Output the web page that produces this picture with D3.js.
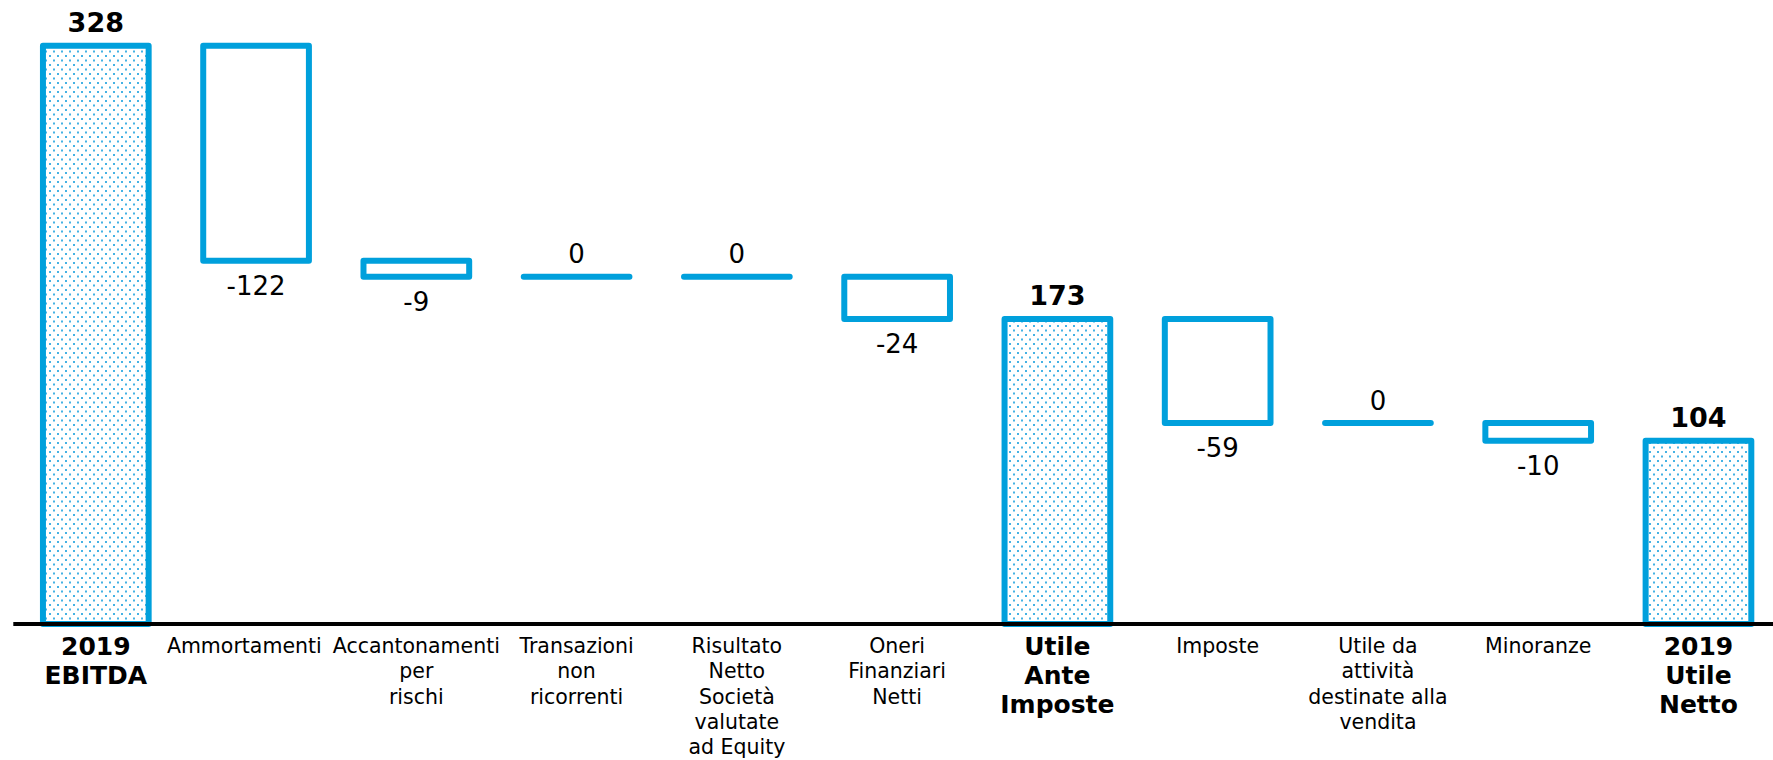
<!DOCTYPE html>
<html>
<head>
<meta charset="utf-8">
<script src="https://cdn.jsdelivr.net/npm/d3@7"></script>
<style>
  html, body { margin: 0; padding: 0; background: #fff; }
  svg { display: block; }
  text { font-family: "DejaVu Sans", Verdana, sans-serif; fill: #000; }
</style>
</head>
<body>
<svg id="chart" width="1773" height="760"></svg>
<script>
// ---- data ----
const categories = [
  "2019\nEBITDA",
  "Ammortamenti",
  "Accantonamenti\nper\nrischi",
  "Transazioni\nnon\nricorrenti",
  "Risultato\nNetto\nSocietà\nvalutate\nad Equity",
  "Oneri\nFinanziari\nNetti",
  "Utile\nAnte\nImposte",
  "Imposte",
  "Utile da\nattività\ndestinate alla\nvendita",
  "Minoranze",
  "2019\nUtile\nNetto"
];
const values = [328, -122, -9, 0, 0, -24, 173, -59, 0, -10, 104];
const kinds  = ["total", "delta", "delta", "delta", "delta", "delta", "total", "delta", "delta", "delta", "total"];
const valueLabels = ["328", "-122", "-9", "0", "0", "-24", "173", "-59", "0", "-10", "104"];

// ---- layout ----
const W = 1773, H = 760;
const baseY = 624, topY = 45.7;
const blue = "#00A0DC";

const svg = d3.select("#chart");

// waterfall steps
let running = 0;
const bars = categories.map((c, i) => {
  let y0, y1;
  if (kinds[i] === "total") { y0 = 0; y1 = values[i]; running = values[i]; }
  else { y0 = running; y1 = running + values[i]; running = y1; }
  return { cat: c, i, v: values[i], kind: kinds[i], lo: Math.min(y0, y1), hi: Math.max(y0, y1), label: valueLabels[i] };
});

const pin = 0.3405;
const x = d3.scaleBand()
  .domain(categories)
  .range([15.67, 1778.6])
  .paddingInner(pin)
  .paddingOuter(pin / 2);

const y = d3.scaleLinear().domain([0, 328]).range([baseY, topY]);

// pattern
const defs = svg.append("defs");
const pat = defs.append("pattern")
  .attr("id", "dots")
  .attr("patternUnits", "userSpaceOnUse")
  .attr("width", 8).attr("height", 9);
pat.append("rect").attr("width", 8).attr("height", 9).attr("fill", "#fff");
pat.append("rect").attr("x", 1).attr("y", 1).attr("width", 2).attr("height", 2).attr("fill", "#45B2E4");
pat.append("rect").attr("x", 5).attr("y", 5.5).attr("width", 2).attr("height", 2).attr("fill", "#45B2E4");

// bars
svg.append("g").selectAll("path")
  .data(bars)
  .join("path")
  .attr("d", d => {
    const p = d3.path();
    const x0 = x(d.cat), w = x.bandwidth();
    const yt = y(d.hi), yb = y(d.lo);
    p.moveTo(x0, yt);
    p.lineTo(x0 + w, yt);
    p.lineTo(x0 + w, yb);
    p.lineTo(x0, yb);
    p.closePath();
    return p.toString();
  })
  .attr("fill", d => d.kind === "total" ? "url(#dots)" : "#fff")
  .attr("stroke", blue)
  .attr("stroke-width", 6)
  .attr("stroke-linejoin", "round")
  .attr("stroke-linecap", "round");

// baseline
svg.append("line")
  .attr("x1", 13.3).attr("x2", W)
  .attr("y1", y(0)).attr("y2", y(0))
  .attr("stroke", "#000").attr("stroke-width", 4);

// value labels
svg.append("g").selectAll("text")
  .data(bars)
  .join("text")
  .attr("text-anchor", "middle")
  .attr("x", d => x(d.cat) + x.bandwidth() / 2)
  .attr("y", d => {
    if (d.kind === "total") return y(d.hi) - 13.5;
    if (d.v === 0) return y(d.hi) - 13.5;
    return y(d.lo) + 34;
  })
  .style("font-size", d => d.kind === "total" ? "27px" : "26px")
  .style("font-weight", d => d.kind === "total" ? "bold" : "normal")
  .text(d => d.label);

// category labels
const cat = svg.append("g").selectAll("text")
  .data(bars)
  .join("text")
  .attr("text-anchor", "middle")
  .attr("x", d => x(d.cat) + x.bandwidth() / 2)
  .attr("y", d => d.kind === "total" ? 655 : 652.7)
  .style("font-size", d => d.kind === "total" ? "25px" : "20.5px")
  .style("font-weight", d => d.kind === "total" ? "bold" : "normal");

cat.each(function (d) {
  const lines = d.cat.split("\n");
  const lh = d.kind === "total" ? 29 : 25.4;
  const t = d3.select(this);
  lines.forEach((ln, k) => {
    t.append("tspan")
      .attr("x", x(d.cat) + x.bandwidth() / 2)
      .attr("dy", k === 0 ? 0 : lh)
      .text(ln);
  });
});

// resolve overlaps between neighbouring labels: push the left label leftwards
const nodes = cat.nodes();
for (let i = nodes.length - 2; i >= 0; i--) {
  const a = nodes[i].getBBox(), b = nodes[i + 1].getBBox();
  const overlap = (a.x + a.width + 11) - b.x;
  if (overlap > 0) {
    d3.select(nodes[i]).selectAll("tspan").attr("x", function () {
      return +d3.select(this).attr("x") - overlap;
    });
  }
}
</script>
</body>
</html>
